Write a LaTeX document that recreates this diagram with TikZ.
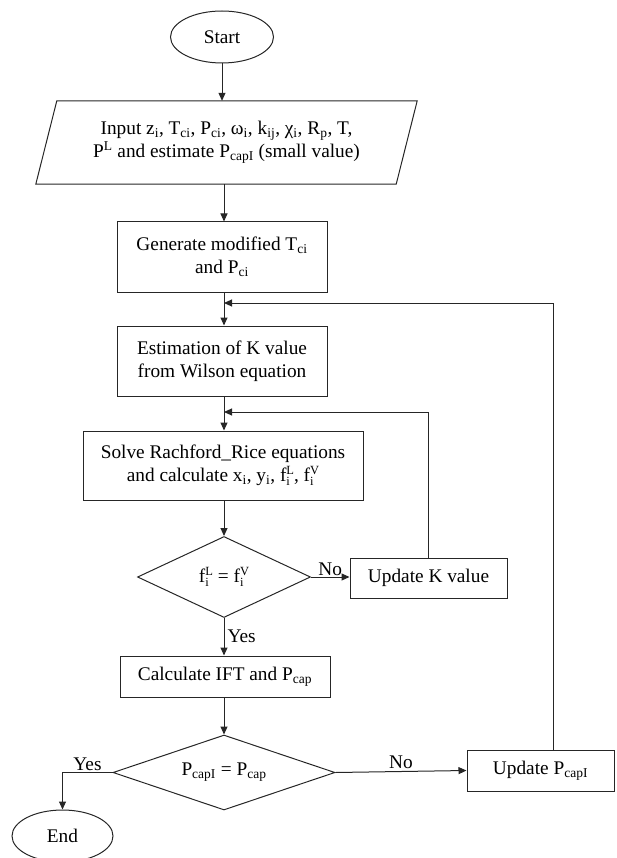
\documentclass[tikz,border=0pt]{standalone}
\usepackage{fontspec}
\setmainfont{Liberation Serif}
\usetikzlibrary{shapes.geometric,arrows.meta}
\newcommand{\sbs}[1]{\textsubscript{#1}}
\newcommand{\sps}[1]{\textsuperscript{#1}}
\newcommand{\fsub}[1]{f\raisebox{-4pt}{\fontsize{12.5}{11}\selectfont\shortstack[l]{#1\\i}}}
\begin{document}
\begin{tikzpicture}[x=1pt,y=-1pt,
  every node/.style={font=\rmfamily\fontsize{19.3}{23}\selectfont, inner sep=0pt},
  box/.style={draw=black!85, line width=1pt, align=center},
  term/.style={draw=black!85, ellipse, line width=1pt},
  decis/.style={draw=black!85, diamond, line width=1pt},
  link/.style={draw=black!85, line width=1pt, -{Triangle[length=8pt,width=7pt]}},
  plainline/.style={draw=black!85, line width=1pt}]
\useasboundingbox (0,0) rectangle (617,858);
\node[term, minimum width=103pt, minimum height=52pt] (start) at (222,37) {Start};
\node[align=center, minimum width=381pt, minimum height=83pt] (input) at (226.5,142.5)
  {Input z\sbs{i}, T\sbs{ci}, P\sbs{ci}, ω\sbs{i}, k\sbs{ij}, χ\sbs{i}, R\sbs{p}, T,\\ P\sps{L} and estimate P\sbs{capI} (small value)};
\draw[plainline] (input.south west) -- ([xshift=-21pt]input.south east) -- (input.north east) -- ([xshift=21pt]input.north west) -- cycle;
\node[box, minimum width=210pt, minimum height=70pt] (gen) at (222,257) {Generate modified T\sbs{ci}\\and P\sbs{ci}};
\node[box, minimum width=210pt, minimum height=70pt] (est) at (222,361) {Estimation of K value\\from Wilson equation};
\node[box, minimum width=280pt, minimum height=69pt] (solve) at (223,465.5) {Solve Rachford\_Rice equations\\and calculate x\sbs{i}, y\sbs{i}, \fsub{L}, \fsub{V}};
\node[decis, aspect=2.1, minimum width=173pt, minimum height=81pt] (d1) at (224,577) {\fsub{L} = \fsub{V}};
\node[box, minimum width=157pt, minimum height=40pt] (updK) at (428.5,578) {Update K value};
\node[box, minimum width=210pt, minimum height=41pt] (calc) at (225,676.5) {Calculate IFT and P\sbs{cap}};
\node[decis, aspect=3, minimum width=222pt, minimum height=75pt] (d2) at (224,772.5) {P\sbs{capI} = P\sbs{cap}};
\node[term, minimum width=101pt, minimum height=52pt] (end) at (62.5,836) {End};
\node[box, minimum width=147pt, minimum height=41pt] (updP) at (540.5,770.5) {Update P\sbs{capI}};
\coordinate (m1) at (224,303);
\coordinate (m2) at (224,412);
\draw[link] (start.south) -- (start.south |- input.north);
\draw[link] (input.south -| m1) -- (gen.north -| m1);
\draw[link] (gen.south -| m1) -- (est.north -| m1);
\draw[link] (est.south -| m1) -- (solve.north -| m1);
\draw[link] (solve.south -| m1) -- (d1.north);
\draw[link] (d1.east) -- (d1.east -| updK.west) node[midway, above=1pt] {No};
\draw[link] (updK.north) |- (m2);
\draw[link] ([xshift=13pt]updP.north) |- (m1);
\draw[link] (d1.south) -- (calc.north -| d1.south) node[midway, right=3pt] {Yes};
\draw[link] (calc.south -| m1) -- (d2.north);
\draw[link] (d2.east) -- (updP.west) node[midway, above=2pt] {No};
\draw[link] (d2.west) -| (end.north) node[pos=0.25, above=1pt] {Yes};
\end{tikzpicture}
\end{document}
